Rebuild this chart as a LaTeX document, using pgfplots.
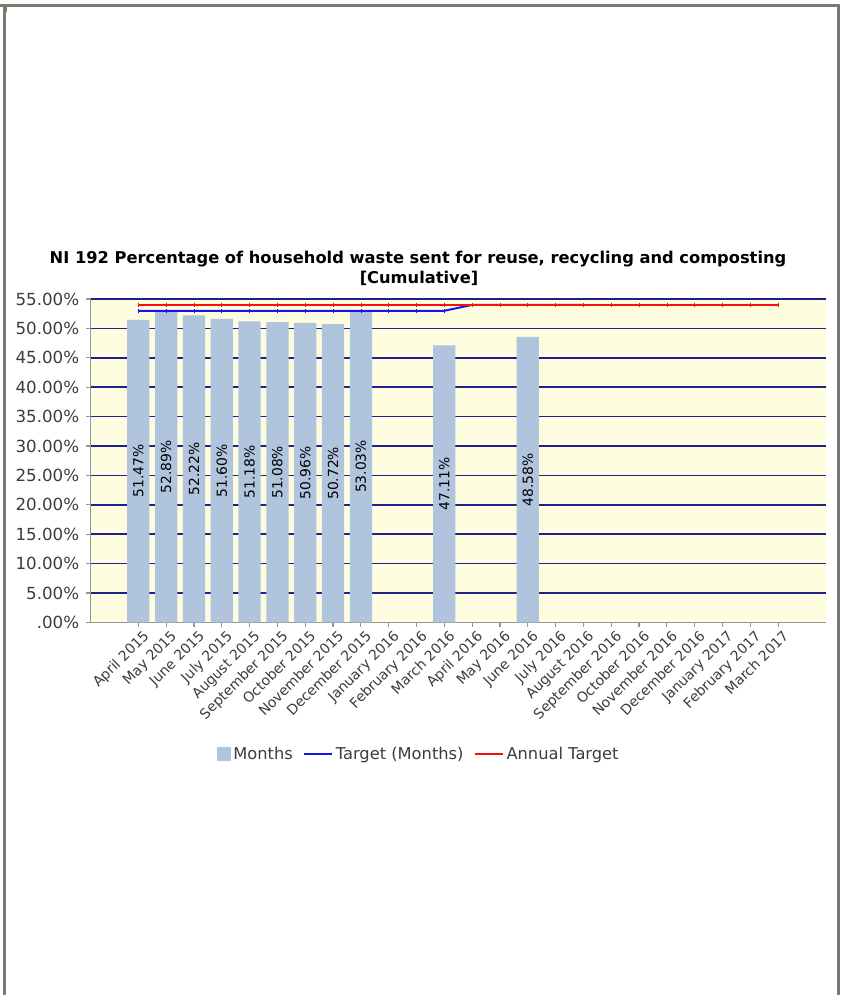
\documentclass[border=0pt]{standalone}
\usepackage{pgfplots}
\pgfplotsset{compat=1.18}
\usepackage{pgfplotstable}
\usepackage{fontspec}
\setmainfont{DejaVu Sans}

\definecolor{framegray}{RGB}{122,122,112}
\definecolor{barblue}{RGB}{176,196,222}
\definecolor{plotbg}{RGB}{255,253,224}
\definecolor{gridnavy}{RGB}{32,32,140}
\definecolor{labelgray}{RGB}{60,60,60}
\definecolor{axisgray}{RGB}{150,150,150}
\definecolor{targetblue}{RGB}{20,20,235}
\definecolor{annualred}{RGB}{245,15,15}

% cumulative percentage per month (index 0 = April 2015)
\pgfplotstableread{
i  v
0  51.47
1  52.89
2  52.22
3  51.60
4  51.18
5  51.08
6  50.96
7  50.72
8  53.03
11 47.11
14 48.58
}\months

% monthly target
\pgfplotstableread{
i  t
0  53
1  53
2  53
3  53
4  53
5  53
6  53
7  53
8  53
9  53
10 53
11 53
12 54
13 54
14 54
15 54
16 54
}\target

% annual target
\pgfplotstableread{
i  t
0  54
1  54
2  54
3  54
4  54
5  54
6  54
7  54
8  54
9  54
10 54
11 54
12 54
13 54
14 54
15 54
16 54
17 54
18 54
19 54
20 54
21 54
22 54
23 54
}\annual

\begin{document}
\begin{tikzpicture}
\begin{axis}[
  at={(67.875pt,279.375pt)}, anchor=south west,
  scale only axis, width=551.625pt, height=242.625pt,
  xmin=-1.72, xmax=24.72, ymin=0, ymax=55,
  axis lines*=left,
  axis line style={draw=axisgray, line width=0.9pt},
  axis background/.style={fill=plotbg},
  xtick={0,...,23},
  xticklabels={April 2015,May 2015,June 2015,July 2015,August 2015,September 2015,October 2015,November 2015,December 2015,January 2016,February 2016,March 2016,April 2016,May 2016,June 2016,July 2016,August 2016,September 2016,October 2016,November 2016,December 2016,January 2017,February 2017,March 2017},
  ytick={5,10,...,55},
  yticklabels={5.00\%,10.00\%,15.00\%,20.00\%,25.00\%,30.00\%,35.00\%,40.00\%,45.00\%,50.00\%,55.00\%},
  extra y ticks={0},
  extra y tick labels={.00\%},
  extra y tick style={grid=none},
  ymajorgrids,
  grid style={draw=gridnavy, line width=1.2pt},
  tick align=outside,
  major tick length=3.5pt,
  tick style={draw=axisgray, line width=0.9pt},
  x tick label style={rotate=45, anchor=north east, font=\fontsize{10.5}{12}\selectfont, text=labelgray, inner sep=1pt, xshift=2pt, yshift=-2pt},
  y tick label style={font=\fontsize{12.5}{14}\selectfont, text=labelgray, xshift=-1.5pt},
  legend columns=-1,
  legend style={at={(0.4466,-0.4065)}, anchor=center, draw=none, fill=none,
    font=\fontsize{12.2}{14}\selectfont, text=labelgray,
    /tikz/every even column/.append style={column sep=6pt}},
]
\addplot[ybar, bar width=0.8, bar shift=0pt, fill=barblue, draw=none,
  legend image code/.code={\fill[barblue] (0cm,-0.18cm) rectangle (0.37cm,0.19cm);}]
  table[x=i, y=v]{\months};
\addlegendentry{Months}

\addplot[targetblue, line width=1.5pt, mark=|, mark size=1.6pt,
  mark options={line width=0.5pt},
  legend image code/.code={\draw[targetblue, line width=1.2pt] (0cm,0cm) -- (0.74cm,0cm);}]
  table[x=i, y=t]{\target};
\addlegendentry{Target (Months)}

\addplot[annualred, line width=1.5pt, mark=|, mark size=1.6pt,
  mark options={line width=0.5pt},
  legend image code/.code={\draw[annualred, line width=1.2pt] (0cm,0cm) -- (0.74cm,0cm);}]
  table[x=i, y=t]{\annual};
\addlegendentry{Annual Target}

% value labels, set halfway up each bar
\addplot[draw=none, forget plot, point meta=explicit,
  nodes near coords={\pgfmathprintnumber[fixed,fixed zerofill,precision=2,assume math mode=true]{\pgfplotspointmeta}\%},
  every node near coord/.append style={rotate=90, anchor=center, inner sep=0pt,
    font=\fontsize{10.4}{12}\selectfont, text=black}]
  table[x=i, y expr=\thisrow{v}/2, meta=v]{\months};
\end{axis}

\begin{scope}[x=0.75pt, y=0.75pt]
  \path (0,0) rectangle (843,995);
  % page frame
  \fill[framegray] (0,988) rectangle (840,991);
  \fill[framegray] (3,0) rectangle (6,991);
  \fill[framegray] (837,0) rectangle (840,991);
  \fill[framegray] (6,983) rectangle (7,988);
  % chart title
  \node[anchor=base, inner sep=0pt, font=\fontsize{12.2}{14}\selectfont\bfseries] at (418,731.5)
    {NI 192 Percentage of household waste sent for reuse, recycling and composting};
  \node[anchor=base, inner sep=0pt, font=\fontsize{12.2}{14}\selectfont\bfseries] at (419,711.5)
    {[Cumulative]};
\end{scope}
\end{tikzpicture}
\end{document}
